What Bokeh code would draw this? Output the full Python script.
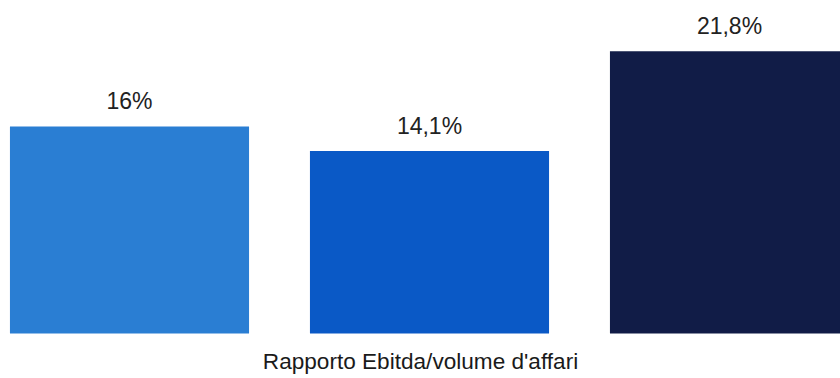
from bokeh.plotting import figure
from bokeh.models import ColumnDataSource, Range1d, Label
from bokeh.core.properties import value
from bokeh.embed import file_html
from bokeh.resources import INLINE

categories = ["A", "B", "C"]
values = [16.0, 14.1, 21.8]
colors = ["#2a7ed3", "#0a59c6", "#111c47"]
labels = [f"{v:g}".replace(".", ",") + "%" for v in values]
xlabel = "Rapporto Ebitda/volume d'affari"

xs = list(range(len(categories)))
src = ColumnDataSource(dict(x=xs, top=values, color=colors, label=labels))

p = figure(width=840, height=378, output_backend="svg", toolbar_location=None,
           x_range=Range1d(-0.43, 2.37), y_range=Range1d(-3.48, 25.73),
           min_border=0, min_border_left=0, min_border_right=0,
           min_border_top=0, min_border_bottom=0)
p.axis.visible = False
p.grid.visible = False
p.outline_line_color = None
p.background_fill_color = "white"
p.border_fill_color = "white"

p.vbar(x="x", top="top", bottom=0, width=0.797, color="color", line_color=None, source=src)
p.text(x="x", y="top", text="label", source=src, text_align="center",
       text_baseline="alphabetic", y_offset=-25, text_font=value("Liberation Sans"),
       text_font_size="23px", text_color="#222222")

p.add_layout(Label(x=420, y=17, x_units="screen", y_units="screen", text=xlabel,
                   text_align="center", text_baseline="alphabetic",
                   text_font="Liberation Sans", text_font_size="22.6px",
                   text_color="#1a1a1a"))

open("out.html", "w").write(file_html(p, INLINE))
